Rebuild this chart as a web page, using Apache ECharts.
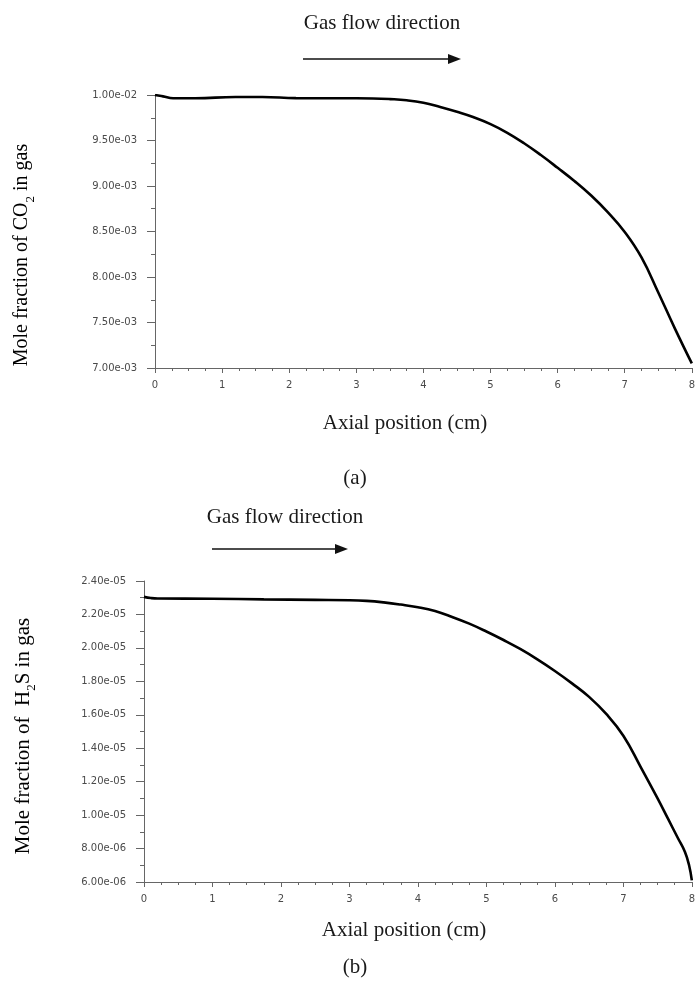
<!DOCTYPE html>
<html><head><meta charset="utf-8">
<script src="https://cdn.jsdelivr.net/npm/echarts@6/dist/echarts.min.js"></script>
<style>html,body{margin:0;padding:0;background:#fff}#c{width:698px;height:981px}</style>
</head><body><div id="c"></div>
<script>
// Axial position (cm) and mole fraction values
const co2X = [0, 0.12, 0.27, 0.6, 1.2, 1.6, 2.1, 2.9, 3.25, 3.5, 3.75, 4.0, 4.25, 4.5, 4.75, 5.0, 5.25, 5.5, 5.75, 6.0, 6.25, 6.5, 6.75, 7.0, 7.25, 7.5, 7.75, 8.0];
const co2Y = [1.0e-2, 9.985e-3, 9.965e-3, 9.965e-3, 9.978e-3, 9.978e-3, 9.966e-3, 9.964e-3, 9.962e-3, 9.955e-3, 9.942e-3, 9.915e-3, 9.868e-3, 9.815e-3, 9.755e-3, 9.68e-3, 9.585e-3, 9.47e-3, 9.34e-3, 9.20e-3, 9.055e-3, 8.895e-3, 8.71e-3, 8.495e-3, 8.215e-3, 7.83e-3, 7.43e-3, 7.05e-3];
const h2sX = [0, 0.1, 0.2, 1.0, 1.75, 2.5, 3.0, 3.25, 3.5, 3.75, 4.0, 4.25, 4.5, 4.75, 5.0, 5.25, 5.5, 5.75, 6.0, 6.25, 6.5, 6.75, 7.0, 7.25, 7.5, 7.65, 7.8, 7.9, 7.96, 8.0];
const h2sY = [2.305e-5, 2.298e-5, 2.295e-5, 2.294e-5, 2.290e-5, 2.287e-5, 2.285e-5, 2.281e-5, 2.272e-5, 2.259e-5, 2.243e-5, 2.22e-5, 2.185e-5, 2.145e-5, 2.098e-5, 2.047e-5, 1.992e-5, 1.93e-5, 1.862e-5, 1.788e-5, 1.707e-5, 1.605e-5, 1.475e-5, 1.29e-5, 1.10e-5, 9.8e-6, 8.6e-6, 7.8e-6, 7.0e-6, 6.1e-6];

const xRange = [0, 8];
const co2Range = [7.0e-3, 1.0e-2, 5.0e-4];
const h2sRange = [6.0e-6, 2.4e-5, 2.0e-6];

const flowLabel = 'Gas flow direction';
const xTitle = 'Axial position (cm)';
const panelA = '(a)';
const panelB = '(b)';

function expFmt(v) {
  const s = Number(v).toExponential(2);
  const m = s.match(/^(-?[\d.]+)e([+-])(\d+)$/);
  if (!m) return s;
  return m[1] + 'e' + m[2] + (m[3].length < 2 ? '0' + m[3] : m[3]);
}
function zip(xs, ys) { return xs.map((x, i) => [x, ys[i]]); }

const serif = 'Liberation Serif, Times New Roman, serif';
const tickFont = { fontFamily: 'DejaVu Sans', fontSize: 10, color: '#4a4a4a' };
const axisCol = '#666';

function xAxisCfg(grid) {
  return {
    type: 'value', gridIndex: grid, min: xRange[0], max: xRange[1], interval: 1,
    axisLine: { show: true, onZero: false, lineStyle: { color: axisCol, width: 1 } },
    axisTick: { show: true, length: 5, lineStyle: { color: axisCol } },
    minorTick: { show: true, splitNumber: 4, length: 3, lineStyle: { color: axisCol } },
    splitLine: { show: false },
    axisLabel: Object.assign({ margin: 12 }, tickFont)
  };
}
function yAxisCfg(grid, r) {
  return {
    type: 'value', gridIndex: grid, min: r[0], max: r[1], interval: r[2],
    axisLine: { show: true, onZero: false, lineStyle: { color: axisCol, width: 1 } },
    axisTick: { show: true, length: 8, lineStyle: { color: axisCol } },
    minorTick: { show: true, splitNumber: 2, length: 4, lineStyle: { color: axisCol } },
    splitLine: { show: false },
    axisLabel: Object.assign({ margin: 18, formatter: expFmt }, tickFont)
  };
}

function arrow(x1, x2, y) {
  return [
    { type: 'line', shape: { x1: x1, y1: y, x2: x2 - 11, y2: y }, style: { stroke: '#111', lineWidth: 1.5 } },
    { type: 'polygon', shape: { points: [[x2 - 13, y - 5], [x2, y], [x2 - 13, y + 5]] }, style: { fill: '#111' } }
  ];
}
function txt(x, y, s) {
  return { type: 'text', x: x, y: y,
    style: { text: s, font: '21px ' + serif, fill: '#1a1a1a', align: 'center', verticalAlign: 'middle' } };
}
function yTitle(x, y, pre, sub, post, size) {
  return {
    type: 'text', x: x, y: y, rotation: Math.PI / 2,
    style: {
      text: '{a|' + pre + '}{s|' + sub + '}{a|' + post + '}',
      align: 'center', verticalAlign: 'middle',
      rich: {
        a: { fontFamily: serif, fontSize: size, color: '#1a1a1a', lineHeight: 30 },
        s: { fontFamily: serif, fontSize: 13, color: '#1a1a1a', lineHeight: 14, verticalAlign: 'bottom' }
      }
    }
  };
}

const chart = echarts.init(document.getElementById('c'), null, { renderer: 'canvas' });
chart.setOption({
  backgroundColor: '#fff',
  animation: false,
  grid: [
    { left: 155, right: 3, top: 95, bottom: 613 },
    { left: 144, right: 3, top: 581, bottom: 99 }
  ],
  xAxis: [xAxisCfg(0), xAxisCfg(1)],
  yAxis: [yAxisCfg(0, co2Range), yAxisCfg(1, h2sRange)],
  series: [
    { type: 'line', xAxisIndex: 0, yAxisIndex: 0, data: zip(co2X, co2Y), showSymbol: false,
      smooth: 0.45, lineStyle: { color: '#000', width: 2.6 } },
    { type: 'line', xAxisIndex: 1, yAxisIndex: 1, data: zip(h2sX, h2sY), showSymbol: false,
      smooth: 0.45, lineStyle: { color: '#000', width: 2.6 } }
  ],
  graphic: [].concat(
    [txt(382, 23, flowLabel)],
    arrow(303, 461, 59),
    [txt(405, 423, xTitle), txt(355, 478, panelA)],
    [txt(285, 517, flowLabel)],
    arrow(212, 348, 549),
    [txt(404, 930, xTitle), txt(355, 967, panelB)],
    [yTitle(22, 255, 'Mole fraction of CO', '2', ' in gas', 20)],
    [yTitle(23, 736, 'Mole fraction of  H', '2', 'S in gas', 21)]
  )
});
</script></body></html>
